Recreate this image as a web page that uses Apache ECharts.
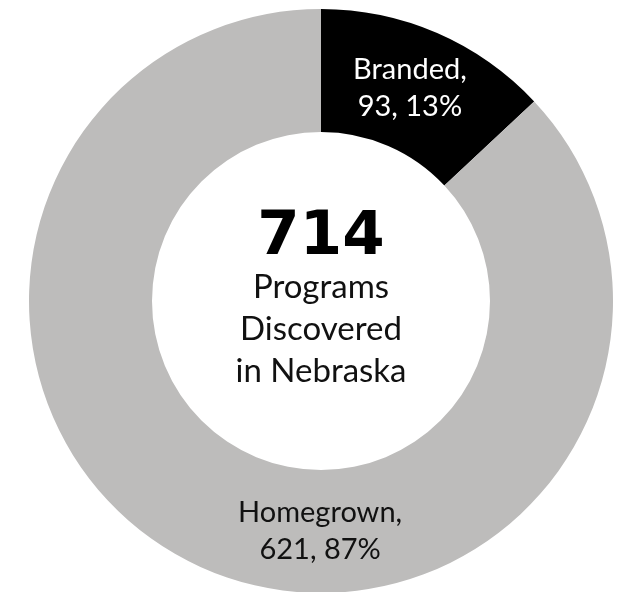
<!DOCTYPE html>
<html>
<head>
<meta charset="utf-8">
<script src="https://cdn.jsdelivr.net/npm/echarts@6/dist/echarts.min.js"></script>
<style>
html,body{margin:0;padding:0;background:#fff;}
#chart{width:631px;height:592px;}
</style>
</head>
<body>
<div id="chart"></div>
<script>
var categories = ['Branded', 'Homegrown'];
var values = [93, 621];
var colors = ['#000000', '#bdbcbb'];
var centerTotal = '714';
var centerLines = ['Programs', 'Discovered', 'in Nebraska'];

var FONT = 'Lato';
var chart = echarts.init(document.getElementById('chart'), null, {renderer: 'canvas'});

var data = categories.map(function (c, i) {
  var d = {name: c, value: values[i], itemStyle: {color: colors[i]}};
  if (i === 0) {
    d.label = {color: '#ffffff', offset: [-4, 1]};
  } else {
    d.label = {color: '#111111', offset: [92, 16]};
  }
  return d;
});

chart.setOption({
  animation: false,
  series: [{
    type: 'pie',
    center: [321, 301],
    radius: [169, 292],
    startAngle: 90,
    clockwise: true,
    avoidLabelOverlap: false,
    silent: true,
    itemStyle: {borderWidth: 0},
    emphasis: {disabled: true},
    label: {
      show: true,
      position: 'inside',
      fontFamily: FONT,
      fontSize: 29,
      lineHeight: 37,
      align: 'center',
      formatter: function (p) {
        return p.name + ',\n' + p.value + ', ' + Math.round(p.percent) + '%';
      }
    },
    labelLine: {show: false},
    data: data
  }],
  graphic: [
    {type: 'text', x: 321, y: 208, style: {text: centerTotal, font: 'bold 61px "DejaVu Sans"', fill: '#000', textAlign: 'center', textVerticalAlign: 'top'}},
    {type: 'text', x: 321, y: 266, style: {text: centerLines.join('\n'), fontFamily: FONT, fontSize: 33, lineHeight: 42, fill: '#111', textAlign: 'center', textVerticalAlign: 'top'}}
  ]
});
</script>
</body>
</html>
